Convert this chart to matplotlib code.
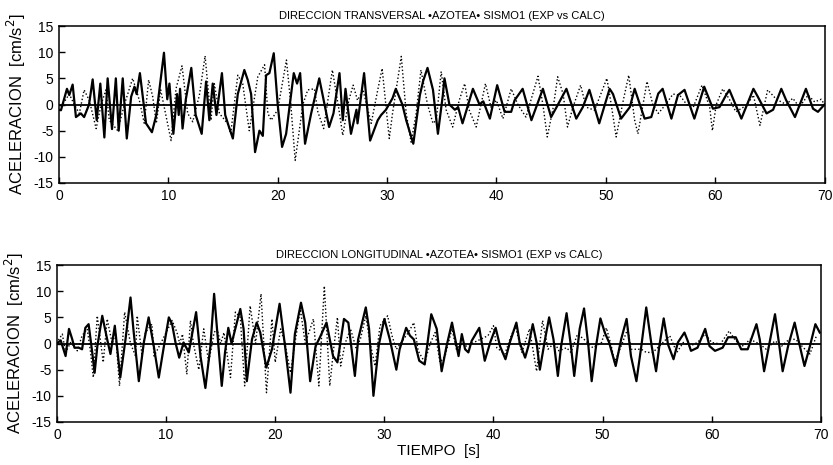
import numpy as np
import matplotlib
matplotlib.use("Agg")
import matplotlib.pyplot as plt

# Aceleraciones en azotea, sismo 1: registro (EXP, linea continua) y calculo (CALC, punteada)
trans_exp = [(0, -1), (0.18, -1.1), (0.73, 3), (0.94, 1.8), (1.25, 3.8), (1.55, -2.4), (2.0, -1.7),
             (2.3, -2.4), (2.75, 0), (3.08, 4.8), (3.45, -3), (3.78, 4), (4.15, -6.3), (4.45, 5),
             (4.85, -4.7), (5.2, 5), (5.46, -5), (5.83, 5), (6.2, -6.5), (6.6, 1.5), (6.9, 3.4),
             (7.1, 2), (7.4, 6), (7.96, -3.6), (8.5, -5.3), (8.9, -2), (9.6, 9.9), (9.9, 1),
             (10.1, 4), (10.46, -5.6), (10.8, 2), (10.95, -2), (11.07, 3), (11.3, -4.6), (11.6, 1),
             (12.1, 7), (12.5, -2), (13.05, -5.6), (13.45, 4.4), (13.75, -3), (14.06, 4), (14.4, -2),
             (14.9, 6), (15.2, -2), (15.5, -4), (15.9, -6.5), (16.35, 2), (16.95, 6.6), (17.26, 4.7),
             (17.57, 2), (17.93, -9.1), (18.33, -5), (18.64, -6), (18.94, 5.6), (19.24, 6),
             (19.64, 9.8), (20.0, 0), (20.4, -8.1), (20.77, -5.6), (21.47, 6), (21.77, 4), (22.05, 6),
             (22.5, -7.5), (23.06, -1.7), (23.8, 5), (24.7, -4.3), (25.1, -1.7), (25.65, 6),
             (25.95, -3), (26.2, 3), (26.7, -5.6), (27.2, -1), (27.3, -3.6), (27.9, 6), (28.45, -6.9),
             (29.15, -3), (29.46, -2), (29.9, -1), (30.5, 1.2), (30.8, 3), (31.4, 0), (31.75, -3),
             (32.4, -7.5), (33.0, 1.8), (33.3, 4.5), (33.7, 7), (34.2, 2.8), (34.65, -5.6),
             (35.1, 1.8), (35.25, 5), (35.7, 0), (36.2, -1), (36.5, -0.5), (36.9, -3.6), (37.85, 3),
             (38.45, 0), (38.8, 0.6), (39.4, -2.7), (40.07, 3.7), (40.75, -1.4), (41.35, -1.4),
             (41.66, 0.8), (42.4, 3), (43.2, -3), (44.25, 3), (45.0, -2.4), (45.5, -0.5), (46.4, 3),
             (47.3, -2.7), (47.9, -0.5), (48.5, 2.8), (49.4, -3.6), (50.35, 3), (50.66, 2),
             (51.4, -2.7), (52.2, -0.5), (52.64, 3), (53.55, -2.7), (54.16, -2.4), (54.8, 2.1),
             (55.2, 3), (56.0, -2.7), (56.6, 1.8), (57.2, 2.8), (58.1, -2.7), (59.0, 3.4), (59.8, -0.8),
             (60.4, -0.5), (61.0, 1.8), (61.3, 2.8), (62.4, -2.7), (63.5, 3), (63.9, 1.5), (64.7, -1.7),
             (65.3, -1), (66.05, 3), (66.5, 0.8), (67.3, -2.4), (68.3, 3), (68.95, -0.8), (69.4, -1.4),
             (70, 0)]

trans_calc = [(0, 0), (0.18, -0.5), (0.94, 2), (1.4, 0), (1.86, -1.7), (2.3, 2.8), (2.77, 0.8), (3.4, -4.6),
              (3.85, 0), (4.3, 2.8), (4.6, -3), (5.37, -5), (5.98, 0), (6.74, 5), (7.35, 0.8),
              (7.8, -3.6), (8.2, 4.7), (8.57, 1.5), (8.9, -3.6), (9.3, 2.8), (10.25, -6.9), (10.7, 3),
              (11.25, 7.4), (11.77, -1.7), (12.23, -3.3), (12.84, 1.8), (13.36, 9.3), (13.9, -3),
              (14.2, 4), (14.67, -1.7), (15.4, -3.6), (15.7, -5.6), (16.35, 5.6), (16.8, 4),
              (17.4, -5), (18.18, 5.3), (18.8, 7.6), (19.1, -1.7), (19.4, -3), (20.0, -1), (20.8, 8.5),
              (21.2, 0), (21.6, -10.7), (22.3, 0), (22.75, 2.8), (23.36, 3), (23.67, -1.4), (24.2, -4.6),
              (25.0, 6.6), (25.6, -1), (25.95, -5.9), (26.5, 0.8), (26.9, 3.7), (27.3, 0.8), (27.8, 2.8),
              (28.55, -3.6), (29.15, 2.8), (29.55, 6.9), (30.2, -6.5), (30.5, -1.7), (31.3, 9.2),
              (31.75, -1.7), (32.2, -7.2), (32.66, -1.7), (33.1, 6.6), (33.7, 0), (34.2, -3.6),
              (34.5, -3), (34.95, 6.3), (35.4, -1), (36.0, -4.3), (36.6, 0.8), (37.1, 4), (37.5, -1),
              (38.15, -4.3), (39.0, 4), (39.5, -0.5), (40.0, 0.8), (40.6, -2.7), (41.35, 3), (41.96, 0),
              (42.7, -2.4), (43.8, 5.4), (44.25, 0), (44.65, -6.2), (45.2, -0.5), (45.6, 5.3), (46.1, 2),
              (46.5, -4.3), (47.0, -0.5), (47.7, 3.7), (48.2, -0.5), (48.97, -1.1), (50.1, 5), (50.5, 0),
              (50.95, -6.2), (51.6, 0.8), (52.1, 5.6), (52.64, -3), (52.94, -5.6), (53.4, 0), (53.77, 4.4),
              (54.3, 0), (54.8, -1.7), (55.4, -0.2), (56.15, 2), (56.75, 1.8), (57.4, 0), (58.0, -0.5),
              (58.8, 3.7), (59.5, -0.5), (59.75, -5), (60.1, 0), (60.7, 3), (61.3, 1), (61.9, -1.4),
              (62.9, -0.1), (63.5, 1.8), (64.1, -4), (64.8, 2.8), (65.6, 1), (66.5, 0), (67.1, 1.2),
              (67.7, -0.5), (68.5, 1.8), (69.1, 0.5), (69.7, 1), (70, 0)]

long_exp = [(0, 0), (0.34, 0.6), (0.79, -2.4), (1.1, 2.8), (1.4, 0.8), (1.6, -0.8), (2.0, -0.8), (2.3, -1.1),
            (2.6, 3), (2.9, 3.7), (3.23, -1.7), (3.45, -5.6), (3.7, -0.5), (4.15, 5.3), (4.6, 0.8),
            (4.9, -2), (5.3, 3.4), (5.8, -6.5), (6.28, 0.8), (6.74, 8.8), (7.0, 2.8), (7.5, -7.2),
            (7.96, 0.2), (8.4, 5), (8.87, -0.5), (9.33, -6.5), (9.8, -0.5), (10.25, 5), (10.55, 3.7),
            (10.86, 0.2), (11.2, -2.7), (11.6, 0.2), (12.08, -1.7), (12.75, 6), (13.15, -2.4),
            (13.6, -8.5), (14.06, -0.5), (14.4, 9.5), (14.8, -0.5), (15.1, -8.1), (15.4, -1.7),
            (15.7, 3), (16.0, 0), (16.8, 6.6), (17.1, 2.8), (17.4, -7.2), (17.87, 0.8), (18.3, 4),
            (18.63, 2.1), (19.18, -4.6), (19.7, -1.1), (20.4, 7.6), (20.9, -0.5), (21.4, -9.4),
            (21.8, 1.8), (22.36, 7.8), (22.75, 4), (23.2, -7.2), (23.7, -0.5), (24.1, 1.2), (24.7, 4),
            (25.3, -2.4), (25.7, -3.6), (26.3, 4.7), (26.7, 4), (27.3, -6.2), (27.6, 0.8), (28.3, 6.9),
            (28.6, 2.8), (29.0, -10), (29.5, -0.2), (30.0, 4.7), (30.5, 0.8), (31.1, -5), (31.4, -1.1),
            (32.0, 3), (32.35, 1.5), (32.7, 0.8), (33.2, -3.3), (33.7, -4), (34.3, 5.6), (34.8, 2.8),
            (35.25, -5.3), (35.7, -0.5), (36.2, 4), (36.8, -2.4), (37.1, 1.8), (37.4, -1.1), (37.7, -1.7),
            (38.0, 0.5), (38.7, 3), (39.2, -3.3), (39.7, 0.2), (40.2, 3), (40.6, -0.5), (41.1, -3),
            (41.5, 0.2), (42.1, 4), (42.4, 0.2), (42.9, -2.7), (43.2, -0.5), (43.6, 3.7), (43.95, 0.2),
            (44.25, -5), (44.7, 0.5), (45.1, 5), (45.5, 0.8), (45.9, -6.2), (46.2, -0.5), (46.7, 5.8),
            (47.1, -0.5), (47.4, -6.2), (47.9, 2.8), (48.3, 6.7), (48.7, -0.5), (49.0, -7.2),
            (49.4, -0.5), (49.8, 4.8), (50.2, 2.1), (50.6, 0.2), (51.2, -4.3), (51.7, 0.8), (52.2, 4.7),
            (52.6, -2.4), (53.1, -7.2), (53.55, -0.5), (54.0, 6.9), (54.5, -0.5), (54.9, -5.3),
            (55.2, -0.5), (55.6, 4.8), (56.0, -0.2), (56.5, -3), (56.9, 0.2), (57.5, 2.1), (57.8, 0.5),
            (58.1, -1.4), (58.7, -0.8), (59.4, 2.8), (59.8, -0.5), (60.3, -1.4), (61.0, -0.8),
            (61.5, 1.2), (62.2, 1.2), (62.7, -1.1), (63.3, -1.1), (64.1, 3.7), (64.4, 0.8), (64.8, -5.3),
            (65.3, 0.2), (65.8, 5.6), (66.2, -0.5), (66.5, -5.3), (67.0, -0.5), (67.6, 4), (68.0, 0.2),
            (68.5, -4.3), (69.0, -0.5), (69.5, 3.7), (69.9, 2.1)]

long_calc = [(0, 0), (0.18, 0.8), (0.49, 1.8), (0.79, -1.7), (1.25, 0.2), (1.55, -0.5), (1.86, -1.4), (2.3, 1.5),
             (2.77, 2.8), (3.08, -1.7), (3.33, -6.5), (3.69, 5.3), (4.24, -3.6), (4.6, 4.7), (5.06, 0),
             (5.37, 2), (5.73, -8.1), (6.2, 6), (6.74, 0), (7.2, -2.4), (7.35, 5.3), (7.8, -2.4),
             (8.1, 2.1), (8.7, 3.7), (8.9, -2.4), (9.5, 0), (10.55, 4.4), (11.0, 2.1), (11.25, 0),
             (11.5, 1.8), (11.9, -5.9), (12.23, 4.4), (12.5, 0), (13.0, -5), (13.45, 2.8), (13.9, -3.6),
             (14.4, 2.1), (14.67, 2.8), (15.0, 0), (15.3, 2.1), (15.9, -6.5), (16.35, 6), (16.8, 5),
             (17.2, -8.1), (17.7, 7.2), (18.2, 0), (18.7, 9.5), (19.2, -9.4), (19.7, 4.7), (20.0, -3.6),
             (20.5, 2.8), (20.9, 0), (21.4, -5.6), (21.8, 0), (22.3, 6.6), (22.75, 0), (23.5, 4.7),
             (24.0, -8.1), (24.5, 11), (25.0, -8.1), (25.35, -1.1), (25.7, 5), (26.0, -4.3), (26.4, 0),
             (26.9, 2.8), (27.4, -0.8), (27.8, 0.8), (28.3, 5.3), (28.7, 0), (29.15, -4.3), (29.6, 3.4),
             (30.3, 5.3), (30.7, 1.5), (31.1, -1.1), (31.75, 0.8), (32.2, 2.1), (32.7, 4), (33.1, -1.4),
             (33.7, -3.6), (34.2, 0), (34.65, 2.1), (35.1, -3.6), (35.56, -2.4), (36.2, 2.8), (36.6, -1.1),
             (37.2, 0.2), (37.5, -0.5), (38.2, 0.2), (38.8, 0.8), (39.5, 1.5), (40.0, 3.4), (40.3, -0.8),
             (41.05, -2), (41.5, 0.8), (42.0, 3.4), (42.6, -1.7), (43.3, 2.8), (43.95, -5.3), (44.5, 4.4),
             (45.0, -1.1), (45.6, 0.2), (46.0, -1.4), (46.7, -0.8), (47.1, -1.7), (47.7, 1.8), (48.3, 0.8),
             (49.1, -0.8), (49.9, 0.2), (50.35, 3), (50.8, -0.5), (51.1, -3.6), (51.7, -0.5), (52.3, 2.8),
             (52.6, -1.1), (53.55, -1.1), (54.0, -1.7), (54.6, -1.7), (55.2, -0.5), (56.15, 1.5),
             (56.8, -1.7), (57.4, 0.2), (58.0, -0.5), (58.7, 0.2), (59.4, 1.8), (60.0, 0.2), (60.8, -0.1),
             (61.6, 2.4), (62.2, 0.5), (62.9, -0.5), (63.5, 0.8), (64.4, -0.1), (65.0, -1.1), (65.8, 0.5),
             (66.4, -0.5), (67.1, 0.8), (67.7, 0.8), (68.4, -0.8), (69.0, -2), (69.6, 1.5)]

titulos = ['DIRECCION TRANSVERSAL \u2022AZOTEA\u2022 SISMO1 (EXP vs CALC)',
           'DIRECCION LONGITUDINAL \u2022AZOTEA\u2022 SISMO1 (EXP vs CALC)']
yticks = [-15, -10, -5, 0, 5, 10, 15]
xticks = [0, 10, 20, 30, 40, 50, 60, 70]

plt.rcParams['font.family'] = ['Liberation Sans', 'DejaVu Sans']
plt.rcParams['axes.unicode_minus'] = False

fig = plt.figure(figsize=(8.33, 4.65), dpi=100)
ax1 = fig.add_axes([0.0708, 0.6065, 0.919, 0.3375])
ax2 = fig.add_axes([0.0684, 0.0925, 0.917, 0.3375])

for ax, exp, calc, titulo in [(ax1, trans_exp, trans_calc, titulos[0]),
                              (ax2, long_exp, long_calc, titulos[1])]:
    exp = np.array(exp)
    calc = np.array(calc)
    ax.plot(calc[:, 0], calc[:, 1], color='black', lw=1.0, ls=(0, (1, 1.6)))
    ax.plot(exp[:, 0], exp[:, 1], color='black', lw=1.6, solid_joinstyle='round')
    ax.axhline(0, color='black', lw=1.3)
    ax.set_xlim(0, 70)
    ax.set_ylim(-15, 15)
    ax.set_xticks(xticks)
    ax.set_yticks(yticks)
    ax.tick_params(direction='in', length=4, width=1, labelsize=10, pad=4)
    for sp in ax.spines.values():
        sp.set_linewidth(1.1)
    ax.set_title(titulo, fontsize=8, pad=5)
    ax.set_ylabel('ACELERACION  [cm/s$^2$]', fontsize=12)
    ax.yaxis.set_label_coords(-0.04, 0.5)

ax2.set_xlabel('TIEMPO  [s]', fontsize=11, labelpad=2)

fig.savefig('out.png', dpi=100)
